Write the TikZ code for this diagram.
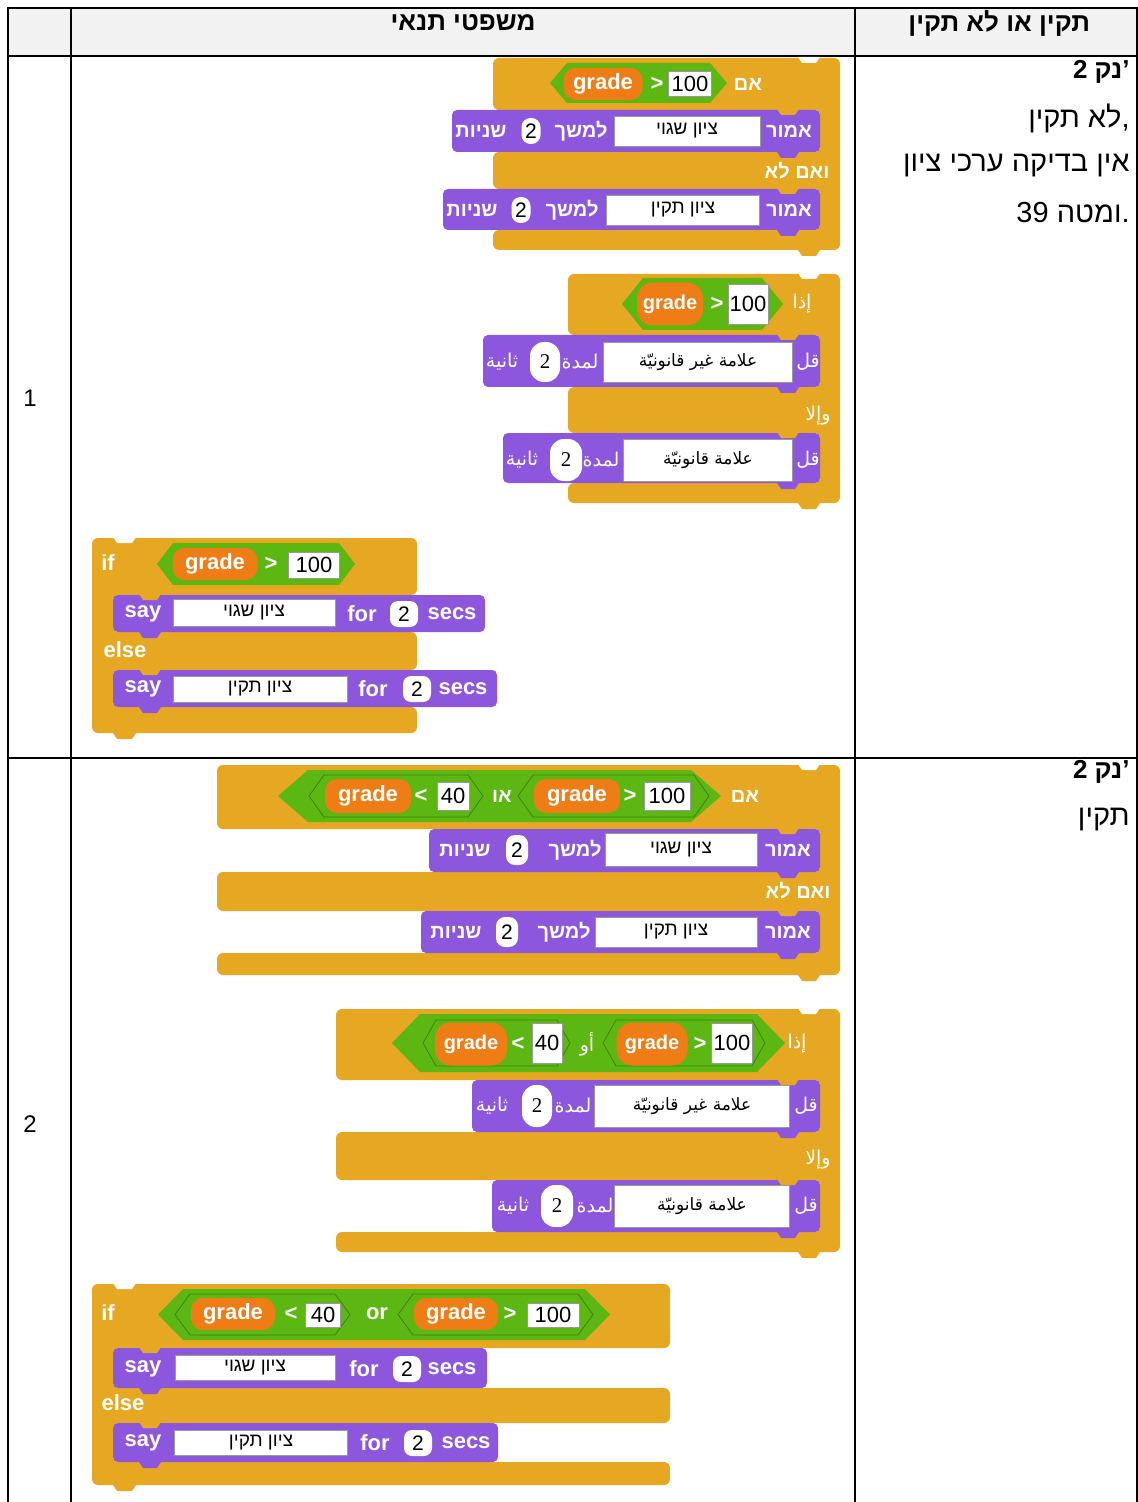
\documentclass[tikz,border=0pt]{standalone}
\usepackage{fontspec}
\setmainfont{Liberation Sans}
\newfontfamily\hebfont[Script=Hebrew]{Liberation Sans}
\newfontfamily\arabicfont[Script=Arabic]{DejaVu Sans}
\newfontfamily\serifnum{Liberation Serif}
\TeXXeTstate=1
\usepackage{xcolor}
\usepackage{tikz}
\usetikzlibrary{calc}

\definecolor{ctrl}{HTML}{E6A822}
\definecolor{looks}{HTML}{8C57DD}
\definecolor{oper}{HTML}{5CB712}
\definecolor{varorange}{HTML}{EE7D16}
\definecolor{headgray}{HTML}{F2F2F2}

% scratch pieces, all coordinates in pixels of the screenshot
% if/else with the spine on the right (hebrew, arabic)
\newcommand{\cblockR}[8]{%
  \fill[ctrl, rounded corners=3pt] (#1,#3) -- (#2,#3) -- (#2,#8) -- (#1,#8) -- (#1,#7)
    -- ({#2-20},#7) -- ({#2-20},#6) -- (#1,#6) -- (#1,#5) -- ({#2-20},#5) -- ({#2-20},#4) -- (#1,#4) -- cycle;
  \fill[white] ({#2-42},{#3-1}) -- ({#2-38},{#3+5}) -- ({#2-24},{#3+5}) -- ({#2-20},{#3-1}) -- cycle;
  \fill[ctrl] ({#2-42},#8) -- ({#2-38},{#8+6}) -- ({#2-24},{#8+6}) -- ({#2-20},#8) -- cycle;
}
% if/else with the spine on the left (english)
\newcommand{\cblockL}[8]{%
  \fill[ctrl, rounded corners=3pt] (#1,#3) -- (#2,#3) -- (#2,#4) -- ({#1+21},#4) -- ({#1+21},#5) -- (#2,#5)
    -- (#2,#6) -- ({#1+21},#6) -- ({#1+21},#7) -- (#2,#7) -- (#2,#8) -- (#1,#8) -- cycle;
  \fill[white] ({#1+21},{#3-1}) -- ({#1+25},{#3+5}) -- ({#1+40},{#3+5}) -- ({#1+44},{#3-1}) -- cycle;
  \fill[ctrl] ({#1+21},#8) -- ({#1+25},{#8+6}) -- ({#1+40},{#8+6}) -- ({#1+44},#8) -- cycle;
}
% purple say block: left, right, top, bottom, tab x
\newcommand{\lookblock}[5]{%
  \fill[looks, rounded corners=2.5pt] (#1,#3) rectangle (#2,#4);
  \fill[looks] (#5,{#4-1}) -- (#5,#4) -- ({#5+4},{#4+6}) -- ({#5+18},{#4+6}) -- ({#5+22},#4) -- ({#5+22},{#4-1}) -- cycle;
  \fill[ctrl] (#5,{#3-1}) -- ({#5+4},{#3+5}) -- ({#5+18},{#3+5}) -- ({#5+22},{#3-1}) -- cycle;
}
% green condition: left, right, top, bottom, point
\newcommand{\boolhex}[6][]{%
  \fill[oper,#1] (#2,{(#4+#5)/2}) -- ({#2+#6},#4) -- ({#3-#6},#4) -- (#3,{(#4+#5)/2}) -- ({#3-#6},#5) -- ({#2+#6},#5) -- cycle;
}

\tikzset{
  tbl/.style={line width=0.9pt},
  sz/.style 2 args={minimum width=#1*0.5pt, minimum height=#2*0.5pt},
  inner/.style={draw=oper!70!black, line width=0.4pt},
  hlbl/.style={text=white, inner sep=0pt, font=\hebfont\bfseries\fontsize{10}{12}\selectfont},
  albl/.style={text=white, inner sep=0pt, font=\arabicfont\fontsize{9.5}{11}\selectfont},
  elbl/.style={text=white, inner sep=0pt, font=\bfseries\fontsize{11}{13}\selectfont},
  field/.style={fill=white, draw=black!40, line width=0.4pt, inner sep=0pt, text=black},
  hfield/.style={field, font=\hebfont\fontsize{9.5}{11}\selectfont},
  afield/.style={field, font=\arabicfont\fontsize{8.5}{10}\selectfont},
  nfield/.style={field, font=\fontsize{11}{13}\selectfont},
  num/.style={fill=white, rounded corners=4.5pt, inner sep=0pt, text=black, font=\fontsize{10.5}{12}\selectfont},
  anum/.style={num, rounded corners=7pt, font=\serifnum\fontsize{10.5}{12}\selectfont},
  var/.style={fill=varorange, rounded corners=6pt, inner sep=0pt, text=white, font=\bfseries\fontsize{11}{13}\selectfont},
  tabtext/.style={anchor=east, inner sep=0pt, font=\hebfont\fontsize{14.5}{17}\selectfont},
  tabbold/.style={anchor=east, inner sep=0pt, font=\hebfont\bfseries\fontsize{13}{15}\selectfont},
}

\begin{document}
\begin{tikzpicture}[x=0.5pt, y=-0.5pt]
    \useasboundingbox (0,0) rectangle (1138,1502);

    % table
    \fill[headgray] (8,8) rectangle (1137,56);
    \draw[tbl] (8,1502) -- (8,8) -- (1137,8) -- (1137,1502);
    \draw[tbl] (71,8) -- (71,1502);
    \draw[tbl] (855,8) -- (855,1502);
    \draw[tbl] (8,56) -- (1137,56);
    \draw[tbl] (8,758) -- (1137,758);

    \node[font=\hebfont\bfseries\fontsize{13}{15}\selectfont] (headcode) at (463,23) {\beginR משפטי תנאי\endR};
    \node[font=\hebfont\bfseries\fontsize{13}{15}\selectfont, anchor=east] (headok) at (1097,23) {\beginR תקין או לא תקין\endR};
    \node[font=\fontsize{12}{14}\selectfont] (row1) at (30,398) {1};
    \node[font=\fontsize{12}{14}\selectfont] (row2) at (30,1124) {2};

    \node[tabbold] (pts1) at (1130,72) {2 נק\kern0pt’};
    \node[tabtext] (note1a) at (1130,118) {\beginR לא תקין\endR,};
    \node[tabtext] (note1b) at (1130,166) {\beginR אין בדיקה ערכי ציון\endR};
    \node[tabtext] (note1c) at (1130,213) {39 ומטה\kern0pt.};
    \node[tabbold] (pts2) at (1130,772) {2 נק\kern0pt’};
    \node[tabtext] (note2a) at (1130,820) {תקין};

    % row 1, hebrew
    \cblockR{493}{840}{58}{110}{152}{189}{230}{250}
    \lookblock{452}{820}{110}{152}{777}
    \lookblock{443}{820}{189}{230}{777}
    \boolhex{550}{727}{63}{103}{17}
    \node[var, sz={79}{32}] (g1) at (603,84) {grade};
    \node[elbl] (gt1) at (657,84) {>};
    \node[nfield, sz={43}{25}] (v1) at (690,84) {100};
    \node[hlbl] (if1) at (748,84) {אם};
    \node[hlbl] (say1a) at (789,131) {אמור};
    \node[hfield, sz={146}{30}] (txt1a) at (687,131) {\beginR ציון שגוי\endR};
    \node[hlbl] (for1a) at (581,131) {למשך};
    \node[num, sz={19}{26}] (n1a) at (531,131) {2};
    \node[hlbl] (sec1a) at (481,131) {שניות};
    \node[hlbl] (else1) at (797,171) {\beginR ואם לא\endR};
    \node[hlbl] (say1b) at (789,210) {אמור};
    \node[hfield, sz={153}{30}] (txt1b) at (683,210) {\beginR ציון תקין\endR};
    \node[hlbl] (for1b) at (572,210) {למשך};
    \node[num, sz={19}{26}] (n1b) at (521,210) {2};
    \node[hlbl] (sec1b) at (472,210) {שניות};

    % row 1, arabic
    \cblockR{568}{840}{274}{335}{387}{433}{483}{503}
    \lookblock{483}{820}{335}{387}{777}
    \lookblock{503}{820}{433}{483}{777}
    \boolhex{622}{783}{278}{330}{21}
    \node[var, sz={66}{43}, rounded corners=8pt, font=\bfseries\fontsize{10}{12}\selectfont] (g2) at (670,304) {grade};
    \node[elbl] (gt2) at (717,304) {>};
    \node[nfield, sz={40}{40}] (v2) at (748,304) {100};
    \node[albl] (if2) at (802,304) {إذا};
    \node[albl] (say2a) at (808,362) {قل};
    \node[afield, sz={189}{40}] (txt2a) at (698,362) {\beginR علامة غير قانونيّة\endR};
    \node[albl] (for2a) at (580,362) {لمدة};
    \node[anum, sz={30}{40}] (n2a) at (545,362) {2};
    \node[albl] (sec2a) at (502,362) {ثانية};
    \node[albl] (else2) at (818,416) {وإلا};
    \node[albl] (say2b) at (808,460) {قل};
    \node[afield, sz={169}{42}] (txt2b) at (708,460) {\beginR علامة قانونيّة\endR};
    \node[albl] (for2b) at (601,460) {لمدة};
    \node[anum, sz={32}{42}] (n2b) at (566,460) {2};
    \node[albl] (sec2b) at (522,460) {ثانية};

    % row 1, english
    \cblockL{92}{417}{538}{595}{632}{670}{707}{733}
    \lookblock{113}{485}{595}{632}{139}
    \lookblock{113}{497}{670}{707}{139}
    \boolhex{157}{355}{543}{585}{16}
    \node[var, sz={85}{32}] (g3) at (215,564) {grade};
    \node[elbl] (gt3) at (271,564) {>};
    \node[nfield, sz={51}{26}] (v3) at (314,565) {100};
    \node[elbl] (if3) at (108,563) {if};
    \node[elbl] (say3a) at (143,614) {say};
    \node[hfield, sz={162}{27}] (txt3a) at (254,613) {\beginR ציון שגוי\endR};
    \node[elbl] (for3a) at (362,614) {for};
    \node[num, sz={28}{26}, rounded corners=4pt] (n3a) at (404,614) {2};
    \node[elbl] (sec3a) at (452,614) {secs};
    \node[elbl] (else3) at (125,650) {else};
    \node[elbl] (say3b) at (143,689) {say};
    \node[hfield, sz={174}{26}] (txt3b) at (260,689) {\beginR ציון תקין\endR};
    \node[elbl] (for3b) at (373,689) {for};
    \node[num, sz={28}{26}, rounded corners=4pt] (n3b) at (417,689) {2};
    \node[elbl] (sec3b) at (463,689) {secs};

    % row 2, hebrew
    \cblockR{217}{840}{765}{829}{872}{911}{953}{975}
    \lookblock{429}{820}{829}{872}{777}
    \lookblock{421}{820}{911}{953}{777}
    \boolhex{278}{721}{770}{822}{30}
    \boolhex[inner]{309}{483}{775}{817}{15}
    \boolhex[inner]{518}{709}{775}{817}{15}
    \node[var, sz={86}{34}] (g4a) at (368,796) {grade};
    \node[elbl] (lt4) at (421,796) {<};
    \node[nfield, sz={32}{28}] (v4a) at (453,796) {40};
    \node[hlbl] (or4) at (502,796) {או};
    \node[var, sz={86}{34}] (g4b) at (577,796) {grade};
    \node[elbl] (gt4) at (630,796) {>};
    \node[nfield, sz={46}{28}] (v4b) at (667,796) {100};
    \node[hlbl] (if4) at (745,796) {אם};
    \node[hlbl] (say4a) at (788,850) {אמור};
    \node[hfield, sz={152}{33}] (txt4a) at (681,850) {\beginR ציון שגוי\endR};
    \node[hlbl] (for4a) at (575,850) {למשך};
    \node[num, sz={22}{30}] (n4a) at (517,850) {2};
    \node[hlbl] (sec4a) at (465,850) {שניות};
    \node[hlbl] (else4) at (798,891) {\beginR ואם לא\endR};
    \node[hlbl] (say4b) at (788,932) {אמור};
    \node[hfield, sz={162}{30}] (txt4b) at (676,932) {\beginR ציון תקין\endR};
    \node[hlbl] (for4b) at (564,932) {למשך};
    \node[num, sz={22}{30}] (n4b) at (507,932) {2};
    \node[hlbl] (sec4b) at (456,932) {שניות};

    % row 2, arabic
    \cblockR{336}{840}{1009}{1080}{1132}{1180}{1232}{1252}
    \lookblock{472}{820}{1080}{1132}{777}
    \lookblock{492}{820}{1180}{1232}{777}
    \boolhex{392}{785}{1014}{1072}{28}
    \boolhex[inner]{423}{570}{1020}{1066}{13}
    \boolhex[inner]{603}{765}{1020}{1066}{13}
    \node[var, sz={72}{43}, rounded corners=8pt, font=\bfseries\fontsize{10}{12}\selectfont] (g5a) at (471,1044) {grade};
    \node[elbl] (lt5) at (518,1044) {<};
    \node[nfield, sz={30}{40}] (v5a) at (547,1043) {40};
    \node[albl] (or5) at (587,1044) {أو};
    \node[var, sz={71}{43}, rounded corners=8pt, font=\bfseries\fontsize{10}{12}\selectfont] (g5b) at (652,1044) {grade};
    \node[elbl] (gt5) at (700,1044) {>};
    \node[nfield, sz={41}{40}] (v5b) at (732,1043) {100};
    \node[albl] (if5) at (797,1044) {إذا};
    \node[albl] (say5a) at (806,1106) {قل};
    \node[afield, sz={195}{42}] (txt5a) at (692,1106) {\beginR علامة غير قانونيّة\endR};
    \node[albl] (for5a) at (573,1106) {لمدة};
    \node[anum, sz={30}{42}] (n5a) at (537,1106) {2};
    \node[albl] (sec5a) at (492,1106) {ثانية};
    \node[albl] (else5) at (818,1160) {وإلا};
    \node[albl] (say5b) at (806,1206) {قل};
    \node[afield, sz={175}{42}] (txt5b) at (702,1206) {\beginR علامة قانونيّة\endR};
    \node[albl] (for5b) at (595,1206) {لمدة};
    \node[anum, sz={32}{42}] (n5b) at (557,1206) {2};
    \node[albl] (sec5b) at (513,1206) {ثانية};

    % row 2, english
    \cblockL{92}{670}{1284}{1348}{1388}{1423}{1462}{1485}
    \lookblock{113}{487}{1348}{1388}{139}
    \lookblock{113}{498}{1423}{1462}{139}
    \boolhex{158}{610}{1289}{1340}{25}
    \boolhex[inner]{175}{350}{1294}{1335}{15}
    \boolhex[inner]{398}{593}{1294}{1335}{15}
    \node[var, sz={84}{32}] (g6a) at (233,1314) {grade};
    \node[elbl] (lt6) at (291,1314) {<};
    \node[nfield, sz={35}{24}] (v6a) at (323,1315) {40};
    \node[elbl] (or6) at (377,1314) {or};
    \node[var, sz={84}{32}] (g6b) at (456,1314) {grade};
    \node[elbl] (gt6) at (510,1314) {>};
    \node[nfield, sz={52}{24}] (v6b) at (553,1315) {100};
    \node[elbl] (if6) at (108,1313) {if};
    \node[elbl] (say6a) at (143,1369) {say};
    \node[hfield, sz={160}{25}] (txt6a) at (255,1368) {\beginR ציון שגוי\endR};
    \node[elbl] (for6a) at (364,1369) {for};
    \node[num, sz={28}{26}, rounded corners=4pt] (n6a) at (407,1369) {2};
    \node[elbl] (sec6a) at (452,1369) {secs};
    \node[elbl] (else6) at (123,1403) {else};
    \node[elbl] (say6b) at (143,1443) {say};
    \node[hfield, sz={173}{25}] (txt6b) at (261,1443) {\beginR ציון תקין\endR};
    \node[elbl] (for6b) at (375,1443) {for};
    \node[num, sz={28}{26}, rounded corners=4pt] (n6b) at (418,1443) {2};
    \node[elbl] (sec6b) at (466,1443) {secs};
\end{tikzpicture}
\end{document}
